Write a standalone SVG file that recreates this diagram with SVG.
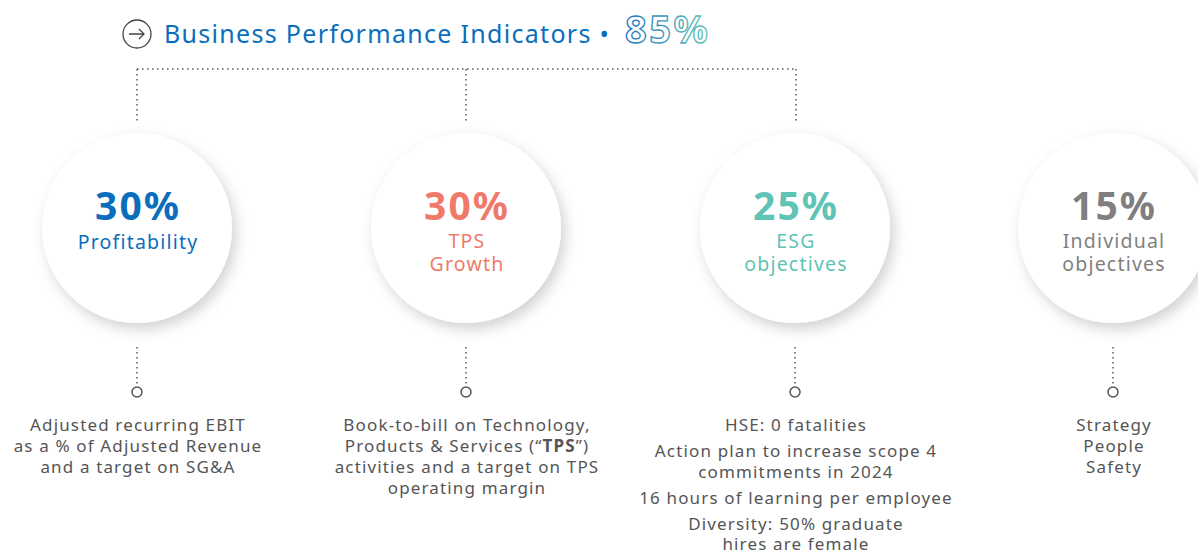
<svg xmlns="http://www.w3.org/2000/svg" width="1198" height="554" viewBox="0 0 1198 554">
<defs>
<filter id="sh" x="-30%" y="-30%" width="160%" height="160%">
<feDropShadow dx="4" dy="6" stdDeviation="7" flood-color="#000" flood-opacity="0.18"/>
</filter>
<linearGradient id="g85" x1="0" y1="0" x2="1" y2="0">
<stop offset="0" stop-color="#1a73c0"/>
<stop offset="1" stop-color="#5fc3b5"/>
</linearGradient>
<style>
.dot{fill:none;stroke:#555;stroke-width:1.5;stroke-dasharray:1.5 3.5}
.bub{fill:#fff;filter:url(#sh)}
.pct{font-family:"Noto Sans","Liberation Sans",sans-serif;font-weight:700;font-size:39px;letter-spacing:2px;text-anchor:middle}
.lab{font-family:"Noto Sans","Liberation Sans",sans-serif;font-size:19.5px;letter-spacing:1.2px;text-anchor:middle}
.body{font-family:"Noto Sans","Liberation Sans",sans-serif;font-size:17px;letter-spacing:1.15px;fill:#555;text-anchor:middle}
.end{fill:#fff;stroke:#555;stroke-width:1.5}
</style>
</defs>
<rect width="1198" height="554" fill="#fff"/>
<g id="title">
<circle cx="137" cy="34" r="14" fill="none" stroke="#444" stroke-width="1.3"/>
<path d="M129 34h15M139 29l5 5-5 5" fill="none" stroke="#444" stroke-width="1.3"/>
<text x="164" y="43" font-family="'Noto Sans','Liberation Sans',sans-serif" font-size="25" letter-spacing="1.3" fill="#0a6ebd">Business Performance Indicators •</text>
<text x="625" y="43" font-family="'Noto Sans','Liberation Sans',sans-serif" font-size="38" letter-spacing="2.5" font-weight="700" fill="none" stroke="url(#g85)" stroke-width="1.3">85%</text>
</g>
<g id="connectors">
<path class="dot" d="M137 69H796M137 69V122M466 69V122M796 69V122"/>
<path class="dot" d="M137 347V385M466 347V385M795 347V385M1113 347V385"/>
<circle class="end" cx="137" cy="392" r="5"/>
<circle class="end" cx="466" cy="392" r="5"/>
<circle class="end" cx="795" cy="392" r="5"/>
<circle class="end" cx="1113" cy="392" r="5"/>
</g>
<g id="profitability">
<circle class="bub" cx="137" cy="228" r="95"/>
<text class="pct" x="138" y="220" fill="#0a6ebd">30%</text>
<text class="lab" x="138" y="249" fill="#0a6ebd">Profitability</text>
<text class="body"><tspan x="138" y="431">Adjusted recurring EBIT</tspan><tspan x="138" y="452">as a % of Adjusted Revenue</tspan><tspan x="138" y="473">and a target on SG&amp;A</tspan></text>
</g>
<g id="tps">
<circle class="bub" cx="466" cy="228" r="95"/>
<text class="pct" x="467" y="220" fill="#f07a6a">30%</text>
<text class="lab" x="467" y="248" fill="#f07a6a">TPS</text>
<text class="lab" x="467" y="271" fill="#f07a6a">Growth</text>
<text class="body"><tspan x="467" y="431">Book-to-bill on Technology,</tspan><tspan x="467" y="452">Products &amp; Services (“<tspan font-weight="700">TPS</tspan>”)</tspan><tspan x="467" y="473">activities and a target on TPS</tspan><tspan x="467" y="494">operating margin</tspan></text>
</g>
<g id="esg">
<circle class="bub" cx="795" cy="228" r="95"/>
<text class="pct" x="796" y="220" fill="#5fc3b5">25%</text>
<text class="lab" x="796" y="248" fill="#5fc3b5">ESG</text>
<text class="lab" x="796" y="271" fill="#5fc3b5">objectives</text>
<text class="body"><tspan x="796" y="431">HSE: 0 fatalities</tspan><tspan x="796" y="457">Action plan to increase scope 4</tspan><tspan x="796" y="478">commitments in 2024</tspan><tspan x="796" y="504">16 hours of learning per employee</tspan><tspan x="796" y="530">Diversity: 50% graduate</tspan><tspan x="796" y="550">hires are female</tspan></text>
</g>
<g id="individual">
<circle class="bub" cx="1113" cy="228" r="95"/>
<text class="pct" x="1114" y="220" fill="#7f7f7f">15%</text>
<text class="lab" x="1114" y="248" fill="#7f7f7f">Individual</text>
<text class="lab" x="1114" y="271" fill="#7f7f7f">objectives</text>
<text class="body"><tspan x="1114" y="431">Strategy</tspan><tspan x="1114" y="452">People</tspan><tspan x="1114" y="473">Safety</tspan></text>
</g>
</svg>
